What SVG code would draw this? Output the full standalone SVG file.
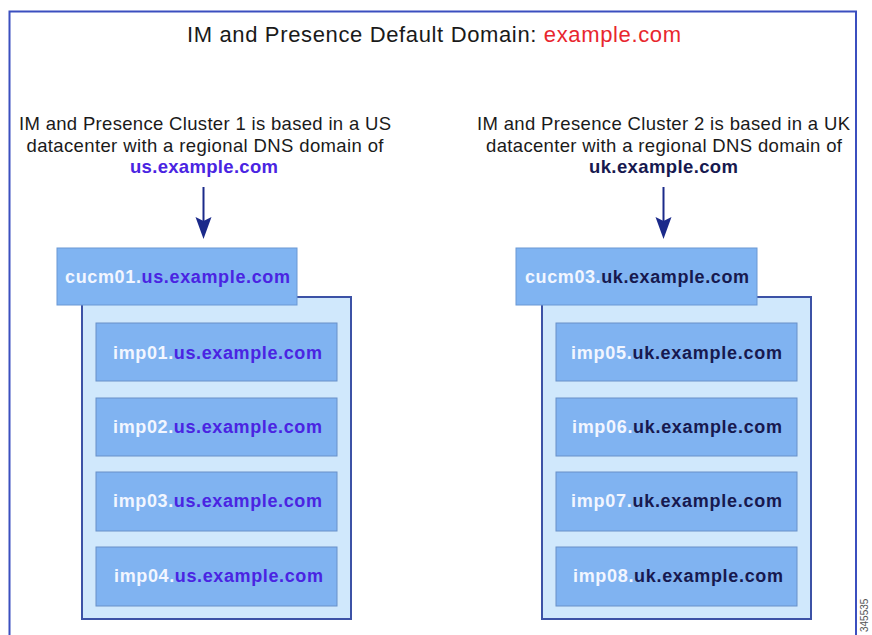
<svg xmlns="http://www.w3.org/2000/svg" width="872" height="635" viewBox="0 0 872 635">
<defs>
<style>
text{font-family:"Liberation Sans",Arial,sans-serif;}
.title{font-size:22px;fill:#1a1a1a;text-anchor:middle;}
.red{fill:#e8262e;}
.desc{font-size:18.5px;fill:#1a1a1a;text-anchor:middle;}
.dom{font-size:18.5px;font-weight:bold;text-anchor:middle;}
.us{fill:#4a24e2;}
.uk{fill:#17194f;}
.lbl{font-size:18px;font-weight:bold;text-anchor:middle;}
.host{fill:#f2f6ff;}
.frame{fill:#ffffff;stroke:#3b4fbf;stroke-width:2;}
.cont{fill:#d0e8fc;stroke:#3c52a6;stroke-width:2;}
.head{fill:#80b4f2;stroke:#6a98d4;stroke-width:1;}
.box{fill:#80b3f1;stroke:#6890c8;stroke-width:1;}
.arr{stroke:#1b2a8a;stroke-width:2;fill:none;}
.ah{fill:#1b2a8a;}
</style>
</defs>
<rect x="0" y="0" width="872" height="635" fill="#ffffff"/>
<rect class="frame" x="9.5" y="11.5" width="846.5" height="640"/>
<text class="title" x="434" y="42" textLength="494">IM and Presence Default Domain: <tspan class="red">example.com</tspan></text>

<g id="desc1">
<text class="desc" x="205" y="130" textLength="372">IM and Presence Cluster 1 is based in a US</text>
<text class="desc" x="205" y="152" textLength="357">datacenter with a regional DNS domain of</text>
<text class="dom us" x="204" y="173" textLength="148">us.example.com</text>
</g>
<g id="desc2">
<text class="desc" x="663.5" y="130" textLength="373">IM and Presence Cluster 2 is based in a UK</text>
<text class="desc" x="664" y="152" textLength="356">datacenter with a regional DNS domain of</text>
<text class="dom uk" x="663.5" y="173" textLength="149">uk.example.com</text>
</g>

<g id="connectors">
<line class="arr" x1="203.5" y1="187" x2="203.5" y2="224"/>
<path class="ah" d="M195.5,217 L203.5,221 L211.5,217 L203.5,239 Z"/>
<line class="arr" x1="663.5" y1="187" x2="663.5" y2="224"/>
<path class="ah" d="M655.5,217 L663.5,221 L671.5,217 L663.5,239 Z"/>
</g>

<g id="cluster1">
<rect class="cont" x="82" y="297" width="269" height="322"/>
<g id="cucm01">
<rect class="head" x="57" y="248" width="240" height="57"/>
<text class="lbl" x="177.5" y="283" textLength="225"><tspan class="host">cucm01.</tspan><tspan class="us">us.example.com</tspan></text>
</g>
<g id="imp01">
<rect class="box" x="96" y="323" width="241" height="58"/>
<text class="lbl" x="217.5" y="359" textLength="209"><tspan class="host">imp01.</tspan><tspan class="us">us.example.com</tspan></text>
</g>
<g id="imp02">
<rect class="box" x="96" y="398" width="241" height="58"/>
<text class="lbl" x="217.5" y="433" textLength="209"><tspan class="host">imp02.</tspan><tspan class="us">us.example.com</tspan></text>
</g>
<g id="imp03">
<rect class="box" x="96" y="472" width="241" height="59"/>
<text class="lbl" x="217.5" y="507" textLength="209"><tspan class="host">imp03.</tspan><tspan class="us">us.example.com</tspan></text>
</g>
<g id="imp04">
<rect class="box" x="96" y="547" width="241" height="59"/>
<text class="lbl" x="218.5" y="582" textLength="209"><tspan class="host">imp04.</tspan><tspan class="us">us.example.com</tspan></text>
</g>
</g>

<g id="cluster2">
<rect class="cont" x="542" y="297" width="269" height="322"/>
<g id="cucm03">
<rect class="head" x="516" y="248" width="241" height="57"/>
<text class="lbl" x="637" y="283" textLength="224"><tspan class="host">cucm03.</tspan><tspan class="uk">uk.example.com</tspan></text>
</g>
<g id="imp05">
<rect class="box" x="556" y="323" width="241" height="58"/>
<text class="lbl" x="676.5" y="359" textLength="211"><tspan class="host">imp05.</tspan><tspan class="uk">uk.example.com</tspan></text>
</g>
<g id="imp06">
<rect class="box" x="556" y="398" width="241" height="58"/>
<text class="lbl" x="677" y="433" textLength="210"><tspan class="host">imp06.</tspan><tspan class="uk">uk.example.com</tspan></text>
</g>
<g id="imp07">
<rect class="box" x="556" y="472" width="241" height="59"/>
<text class="lbl" x="676.5" y="507" textLength="211"><tspan class="host">imp07.</tspan><tspan class="uk">uk.example.com</tspan></text>
</g>
<g id="imp08">
<rect class="box" x="556" y="547" width="241" height="59"/>
<text class="lbl" x="678" y="582" textLength="210"><tspan class="host">imp08.</tspan><tspan class="uk">uk.example.com</tspan></text>
</g>
</g>

<text x="868" y="632" transform="rotate(-90 868 632)" style="font-size:10px;fill:#555555;">345535</text>
</svg>
